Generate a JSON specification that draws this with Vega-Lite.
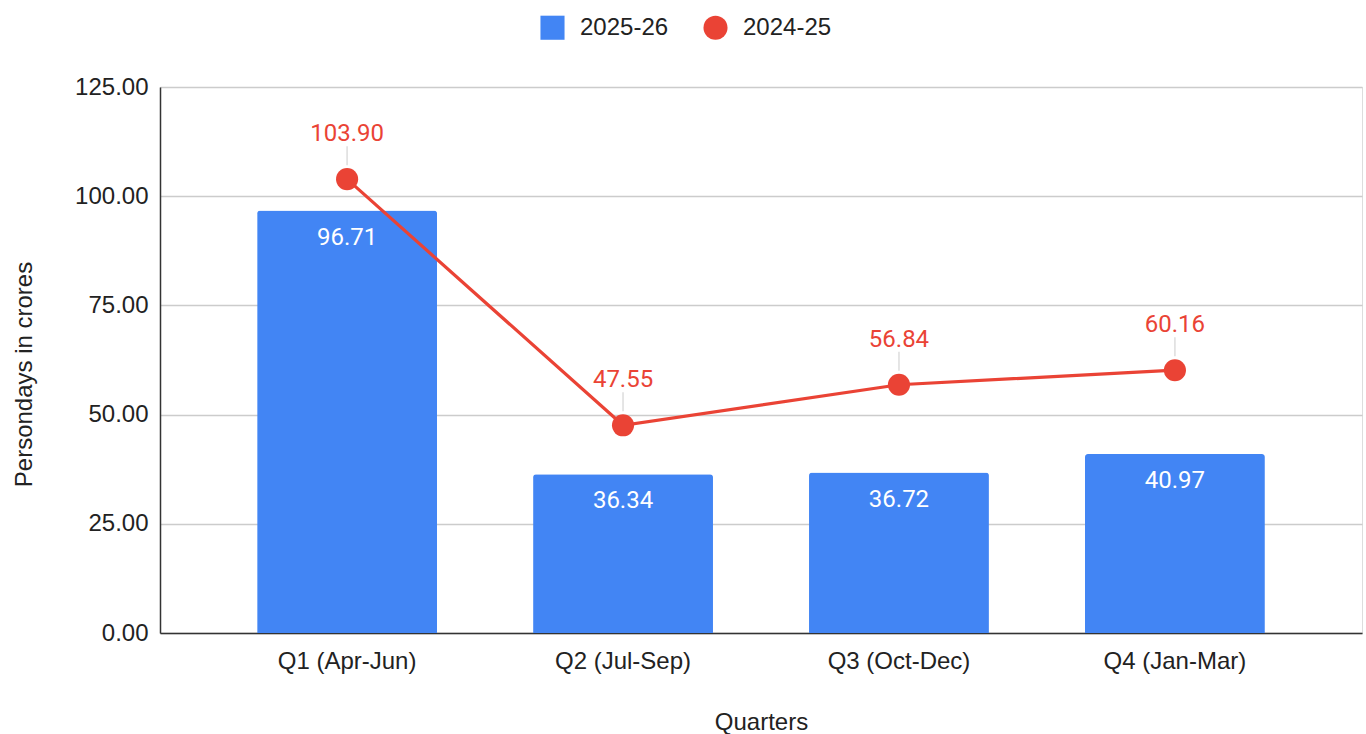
{
  "$schema": "https://vega.github.io/schema/vega-lite/v6.json",
  "width": 1202,
  "height": 546,
  "autosize": {"type": "none"},
  "padding": {"left": 160, "top": 87, "right": 4, "bottom": 101},
  "background": "#ffffff",
  "data": {
    "values": [
      {"quarter": "Q1 (Apr-Jun)", "series": "2025-26", "value": 96.71},
      {"quarter": "Q2 (Jul-Sep)", "series": "2025-26", "value": 36.34},
      {"quarter": "Q3 (Oct-Dec)", "series": "2025-26", "value": 36.72},
      {"quarter": "Q4 (Jan-Mar)", "series": "2025-26", "value": 40.97},
      {"quarter": "Q1 (Apr-Jun)", "series": "2024-25", "value": 103.90},
      {"quarter": "Q2 (Jul-Sep)", "series": "2024-25", "value": 47.55},
      {"quarter": "Q3 (Oct-Dec)", "series": "2024-25", "value": 56.84},
      {"quarter": "Q4 (Jan-Mar)", "series": "2024-25", "value": 60.16}
    ]
  },
  "encoding": {
    "x": {
      "field": "quarter",
      "type": "nominal",
      "sort": null,
      "scale": {"paddingInner": 0.348, "paddingOuter": 0.352},
      "axis": {
        "title": "Quarters",
        "labelAngle": 0,
        "labelFont": "Liberation Sans",
        "labelFontSize": 24,
        "labelColor": "#222222",
        "labelPadding": 16,
        "ticks": false,
        "domainColor": "#333333",
        "domainWidth": 1.5,
        "titleFont": "Liberation Sans",
        "titleFontSize": 24,
        "titleFontWeight": "normal",
        "titleColor": "#222222",
        "titlePadding": 37
      }
    },
    "y": {
      "field": "value",
      "type": "quantitative",
      "scale": {"domain": [0, 125], "nice": false},
      "axis": {
        "title": "Persondays in crores",
        "values": [0, 25, 50, 75, 100, 125],
        "format": ".2f",
        "labelFont": "Liberation Sans",
        "labelFontSize": 24,
        "labelColor": "#222222",
        "labelPadding": 12,
        "ticks": false,
        "domainColor": "#333333",
        "domainWidth": 1.5,
        "gridColor": "#cccccc",
        "gridWidth": 1.5,
        "titleFont": "Liberation Sans",
        "titleFontSize": 24,
        "titleFontWeight": "normal",
        "titleColor": "#222222",
        "titlePadding": 38,
        "titleY": 287
      }
    }
  },
  "layer": [
    {
      "transform": [{"filter": "datum.series === '2025-26'"}],
      "mark": {"type": "bar", "cornerRadiusTopLeft": 3, "cornerRadiusTopRight": 3},
      "encoding": {
        "color": {
          "field": "series",
          "type": "nominal",
          "scale": {"domain": ["2025-26", "2024-25"], "range": ["#4285F4", "#EA4335"]},
          "legend": {
            "title": null,
            "orient": "none",
            "legendX": 380,
            "legendY": -72,
            "direction": "horizontal",
            "labelFont": "Liberation Sans",
            "labelFontSize": 24,
            "labelColor": "#222222",
            "symbolSize": 580,
            "symbolStrokeWidth": 0,
            "labelOffset": 15,
            "columnPadding": 34,
            "padding": 0
          }
        }
      }
    },
    {
      "transform": [{"filter": "datum.series === '2025-26'"}],
      "mark": {"type": "text", "font": "Roboto", "fontSize": 24, "color": "#ffffff", "baseline": "middle", "dy": 27},
      "encoding": {
        "text": {"field": "value", "type": "quantitative", "format": ".2f"}
      }
    },
    {
      "transform": [{"filter": "datum.series === '2024-25'"}],
      "mark": {"type": "rule", "color": "#dddddd", "strokeWidth": 1.5, "yOffset": -14, "y2Offset": -33},
      "encoding": {
        "y2": {"field": "value"}
      }
    },
    {
      "transform": [{"filter": "datum.series === '2024-25'"}],
      "mark": {"type": "line", "color": "#EA4335", "strokeWidth": 3.2},
      "encoding": {}
    },
    {
      "transform": [{"filter": "datum.series === '2024-25'"}],
      "mark": {"type": "point", "filled": true, "opacity": 1, "size": 490, "strokeWidth": 0},
      "encoding": {
        "color": {"field": "series", "type": "nominal"},
        "shape": {
          "field": "series",
          "type": "nominal",
          "scale": {"domain": ["2025-26", "2024-25"], "range": ["square", "circle"]}
        }
      }
    },
    {
      "transform": [{"filter": "datum.series === '2024-25'"}],
      "mark": {"type": "text", "font": "Roboto", "fontSize": 24, "color": "#EA4335", "baseline": "middle", "dy": -45},
      "encoding": {
        "text": {"field": "value", "type": "quantitative", "format": ".2f"}
      }
    }
  ]
}
